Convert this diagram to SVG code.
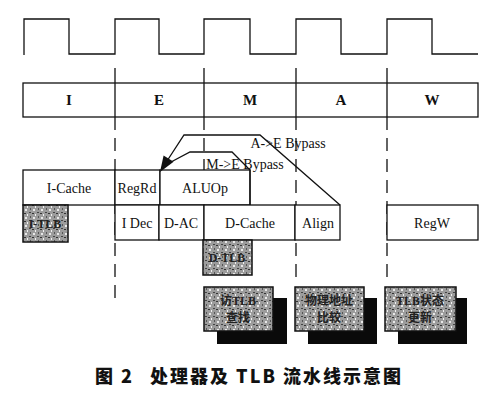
<svg xmlns="http://www.w3.org/2000/svg" width="500" height="400" viewBox="0 0 500 400">
<style>
.ln{fill:none;stroke:#111;stroke-width:1.3}
.dash{fill:none;stroke:#111;stroke-width:1.3;stroke-dasharray:13,8}
.box{fill:#fff;stroke:#111;stroke-width:1.3}
.t{font-family:"Liberation Serif",serif;font-size:14px;fill:#111;text-anchor:middle}
.st{font-family:"Liberation Serif",serif;font-size:15px;font-weight:bold;fill:#111;text-anchor:middle}
.g{fill:url(#spk);stroke:#111;stroke-width:1.5}
.gt{font-family:"Liberation Serif","Noto Sans CJK SC",serif;font-size:12px;font-weight:bold;fill:#222;text-anchor:middle}
.sh{fill:#0a0a0a}
.head{fill:#111}
.cap{font-family:"Noto Sans CJK SC",sans-serif;font-size:18px;font-weight:900;fill:#111;letter-spacing:2px}
</style>
<defs>
<pattern id="spk" width="8" height="8" patternUnits="userSpaceOnUse">
<rect width="8" height="8" fill="#9c9c9c"/>
<rect x="1" y="1" width="2" height="2" fill="#e8e8e8"/>
<rect x="5" y="4" width="2" height="1" fill="#444"/>
<rect x="3" y="6" width="1" height="2" fill="#f0f0f0"/>
<rect x="6" y="0" width="1" height="2" fill="#555"/>
<rect x="0" y="5" width="2" height="1" fill="#333"/>
</pattern>
</defs>
<rect width="500" height="400" fill="#fff"/>
<g id="clock">
<path class="ln" d="M24,55 V19 H69 V54 H115 V19 H159 V54 H204 V19 H250 V54 H296 V19 H341 V54 H387 V19 H432 V54 H478"/>
</g>
<g id="stages">
<rect class="box" x="23" y="83" width="455" height="34"/>
<path class="ln" d="M115,68 V117 M204,68 V117 M296,68 V117 M387,68 V117"/>
<text class="st" x="69" y="105">I</text>
<text class="st" x="159" y="105">E</text>
<text class="st" x="250" y="105">M</text>
<text class="st" x="341" y="105">A</text>
<text class="st" x="432" y="105">W</text>
</g>
<g id="guides">
<path class="dash" d="M115,117 V300"/>
<path class="dash" d="M204,117 V240"/>
<path class="dash" d="M296,117 V285"/>
<path class="dash" d="M387,117 V285"/>
</g>
<g id="icache"><rect class="box" x="23" y="170" width="92" height="35"/><text class="t" x="69" y="193">I-Cache</text></g>
<g id="regrd"><rect class="box" x="115" y="170" width="45" height="35"/><text class="t" x="137" y="193">RegRd</text></g>
<g id="aluop"><rect class="box" x="160" y="170" width="90" height="35"/><text class="t" x="205" y="193">ALUOp</text></g>
<g id="idec"><rect class="box" x="115" y="205" width="44" height="35"/><text class="t" x="137" y="228">I Dec</text></g>
<g id="dac"><rect class="box" x="159" y="205" width="45" height="35"/><text class="t" x="181" y="228">D-AC</text></g>
<g id="dcache"><rect class="box" x="204" y="205" width="91" height="35"/><text class="t" x="250" y="228">D-Cache</text></g>
<g id="align"><rect class="box" x="295" y="205" width="45" height="35"/><text class="t" x="318" y="228">Align</text></g>
<g id="regw"><rect class="box" x="387" y="205" width="91" height="35"/><text class="t" x="432" y="228">RegW</text></g>
<g id="itlb"><rect class="g" x="23" y="205" width="45" height="37"/><text class="gt" x="45" y="228">I-TLB</text></g>
<g id="dtlb"><rect class="g" x="203" y="240" width="49" height="35"/><text class="gt" x="227" y="262">D-TLB</text></g>
<g id="op1"><rect class="sh" x="217" y="298" width="70" height="46"/><rect class="g" x="204" y="287" width="69" height="44"/><text class="gt" x="238" y="305">访TLB</text><text class="gt" x="238" y="322">查找</text></g>
<g id="op2"><rect class="sh" x="308" y="298" width="69" height="46"/><rect class="g" x="295" y="287" width="69" height="44"/><text class="gt" x="329" y="305">物理地址</text><text class="gt" x="329" y="322">比较</text></g>
<g id="op3"><rect class="sh" x="398" y="298" width="69" height="46"/><rect class="g" x="385" y="287" width="71" height="44"/><text class="gt" x="420" y="305">TLB状态</text><text class="gt" x="420" y="322">更新</text></g>
<g id="connectors">
<path class="ln" d="M340,205 L260,135 H184 L167,161"/>
<path class="ln" d="M250,205 V170 L232,152 H190 L171,162"/>
<polygon class="head" points="160,172 173.6,161.8 163.6,155.4"/>
</g>
<g id="labels">
<text class="t" x="288" y="148" font-size="13">A-&gt;E Bypass</text>
<text class="t" x="245" y="169" font-size="13">M-&gt;E Bypass</text>
</g>
<g id="caption">
<text class="cap" x="95" y="383">图 2</text>
<text class="cap" x="150" y="383">处理器及 TLB 流水线示意图</text>
</g>
</svg>
